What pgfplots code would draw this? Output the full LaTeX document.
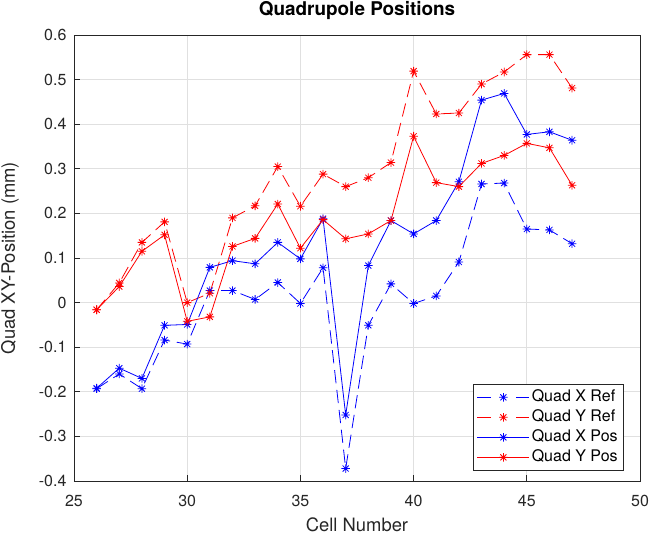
\documentclass[border=0pt]{standalone}
\usepackage{pgfplots}
\pgfplotsset{compat=1.18}
\usepackage{fontspec}
\setmainfont{TeX Gyre Heros}

% eight-armed asterisk (plus and cross combined)
\pgfdeclareplotmark{mstar}{%
  \pgfpathmoveto{\pgfpoint{-\pgfplotmarksize}{0pt}}%
  \pgfpathlineto{\pgfpoint{\pgfplotmarksize}{0pt}}%
  \pgfpathmoveto{\pgfpoint{0pt}{-\pgfplotmarksize}}%
  \pgfpathlineto{\pgfpoint{0pt}{\pgfplotmarksize}}%
  \pgfpathmoveto{\pgfpoint{-0.707\pgfplotmarksize}{-0.707\pgfplotmarksize}}%
  \pgfpathlineto{\pgfpoint{0.707\pgfplotmarksize}{0.707\pgfplotmarksize}}%
  \pgfpathmoveto{\pgfpoint{-0.707\pgfplotmarksize}{0.707\pgfplotmarksize}}%
  \pgfpathlineto{\pgfpoint{0.707\pgfplotmarksize}{-0.707\pgfplotmarksize}}%
  \pgfusepathqstroke}

\definecolor{qblue}{rgb}{0,0,1}
\definecolor{qred}{rgb}{1,0,0}
\definecolor{gridgray}{rgb}{0.88,0.88,0.88}
\definecolor{axgray}{rgb}{0.15,0.15,0.15}

\pgfplotstableread{
cell xref   yref   xpos   ypos
26  -0.193 -0.016 -0.192 -0.016
27  -0.160  0.044 -0.147  0.036
28  -0.193  0.135 -0.170  0.115
29  -0.084  0.181 -0.051  0.152
30  -0.093  0.000 -0.049 -0.042
31   0.027  0.021  0.079 -0.032
32   0.027  0.190  0.094  0.126
33   0.007  0.217  0.087  0.144
34   0.045  0.305  0.135  0.221
35  -0.002  0.216  0.098  0.122
36   0.078  0.288  0.188  0.186
37  -0.372  0.260 -0.252  0.143
38  -0.051  0.280  0.083  0.154
39   0.042  0.314  0.184  0.184
40  -0.002  0.519  0.154  0.373
41   0.015  0.423  0.184  0.269
42   0.091  0.425  0.271  0.260
43   0.266  0.490  0.454  0.312
44   0.268  0.517  0.469  0.330
45   0.165  0.556  0.377  0.357
46   0.163  0.556  0.383  0.347
47   0.132  0.481  0.364  0.263
}\quaddata

\begin{document}
\begin{tikzpicture}
\begin{axis}[
  name=ax,
  scale only axis,
  width=424.5pt, height=334.5pt,
  xmin=25, xmax=50, ymin=-0.4, ymax=0.6,
  xtick={25,30,35,40,45,50},
  ytick={-0.4,-0.3,-0.2,-0.1,0,0.1,0.2,0.3,0.4,0.5,0.6},
  yticklabel style={/pgf/number format/fixed,/pgf/number format/precision=1},
  /pgf/number format/assume math mode=true,
  tick label style={font=\fontsize{12}{14}\selectfont, text=axgray},
  xticklabel style={inner sep=0pt, anchor=north, yshift=-10.5pt},
  yticklabel style={inner sep=0pt, anchor=east, xshift=-5.5pt},
  xtick pos=left, ytick pos=left,
  tick align=inside,
  major tick length=4.5pt,
  tick style={axgray, line width=0.5pt},
  axis line style={axgray, line width=0.5pt},
  grid=major,
  major grid style={gridgray, line width=0.5pt},
  title={\bfseries Quadrupole Positions},
  title style={font=\fontsize{14.2}{16}\selectfont, at={(axis description cs:0.5,1)}, anchor=base, yshift=8.25pt},
  xlabel={Cell Number},
  xlabel style={font=\fontsize{13.8}{16}\selectfont, text=axgray, at={(axis description cs:0.5,0)}, anchor=base, yshift=-38pt},
  ylabel={Quad XY-Position (mm)},
  ylabel style={font=\fontsize{13.8}{16}\selectfont, text=axgray, at={(axis description cs:0,0.5)}, anchor=base, yshift=44.25pt},
  legend cell align=left,
  legend style={
    at={(axis description cs:1,0)}, anchor=south east,
    xshift=-12pt, yshift=7.5pt,
    font=\fontsize{12}{14}\selectfont,
    draw=axgray, line width=0.5pt,
    inner xsep=3pt, inner ysep=2.5pt,
    row sep=0pt,
    nodes={inner sep=1.5pt, text height=9pt, text depth=3pt},
    /tikz/every even column/.append style={column sep=2pt},
  },
  legend image code/.code={%
    \draw[mark repeat=2, mark phase=2, #1]
      plot coordinates {(0pt,0pt) (19.5pt,0pt) (39pt,0pt)};},
  every axis plot/.append style={line width=0.6pt, mark=mstar, mark size=3.2pt,
    mark options={solid, line width=0.6pt}},
  refline/.style={dash pattern=on 10pt off 5pt,
    legend image post style={dash pattern=on 10pt off 19pt}},
]
\addplot[qblue, refline] table[x=cell, y=xref] {\quaddata};
\addlegendentry{Quad X Ref}
\addplot[qred, refline] table[x=cell, y=yref] {\quaddata};
\addlegendentry{Quad Y Ref}
\addplot[qblue] table[x=cell, y=xpos] {\quaddata};
\addlegendentry{Quad X Pos}
\addplot[qred] table[x=cell, y=ypos] {\quaddata};
\addlegendentry{Quad Y Pos}
\end{axis}
\pgfresetboundingbox
\path[use as bounding box]
  ([xshift=-55.5pt, yshift=-41.25pt]ax.south west)
  rectangle ([xshift=9pt, yshift=26.25pt]ax.north east);
\end{tikzpicture}
\end{document}
